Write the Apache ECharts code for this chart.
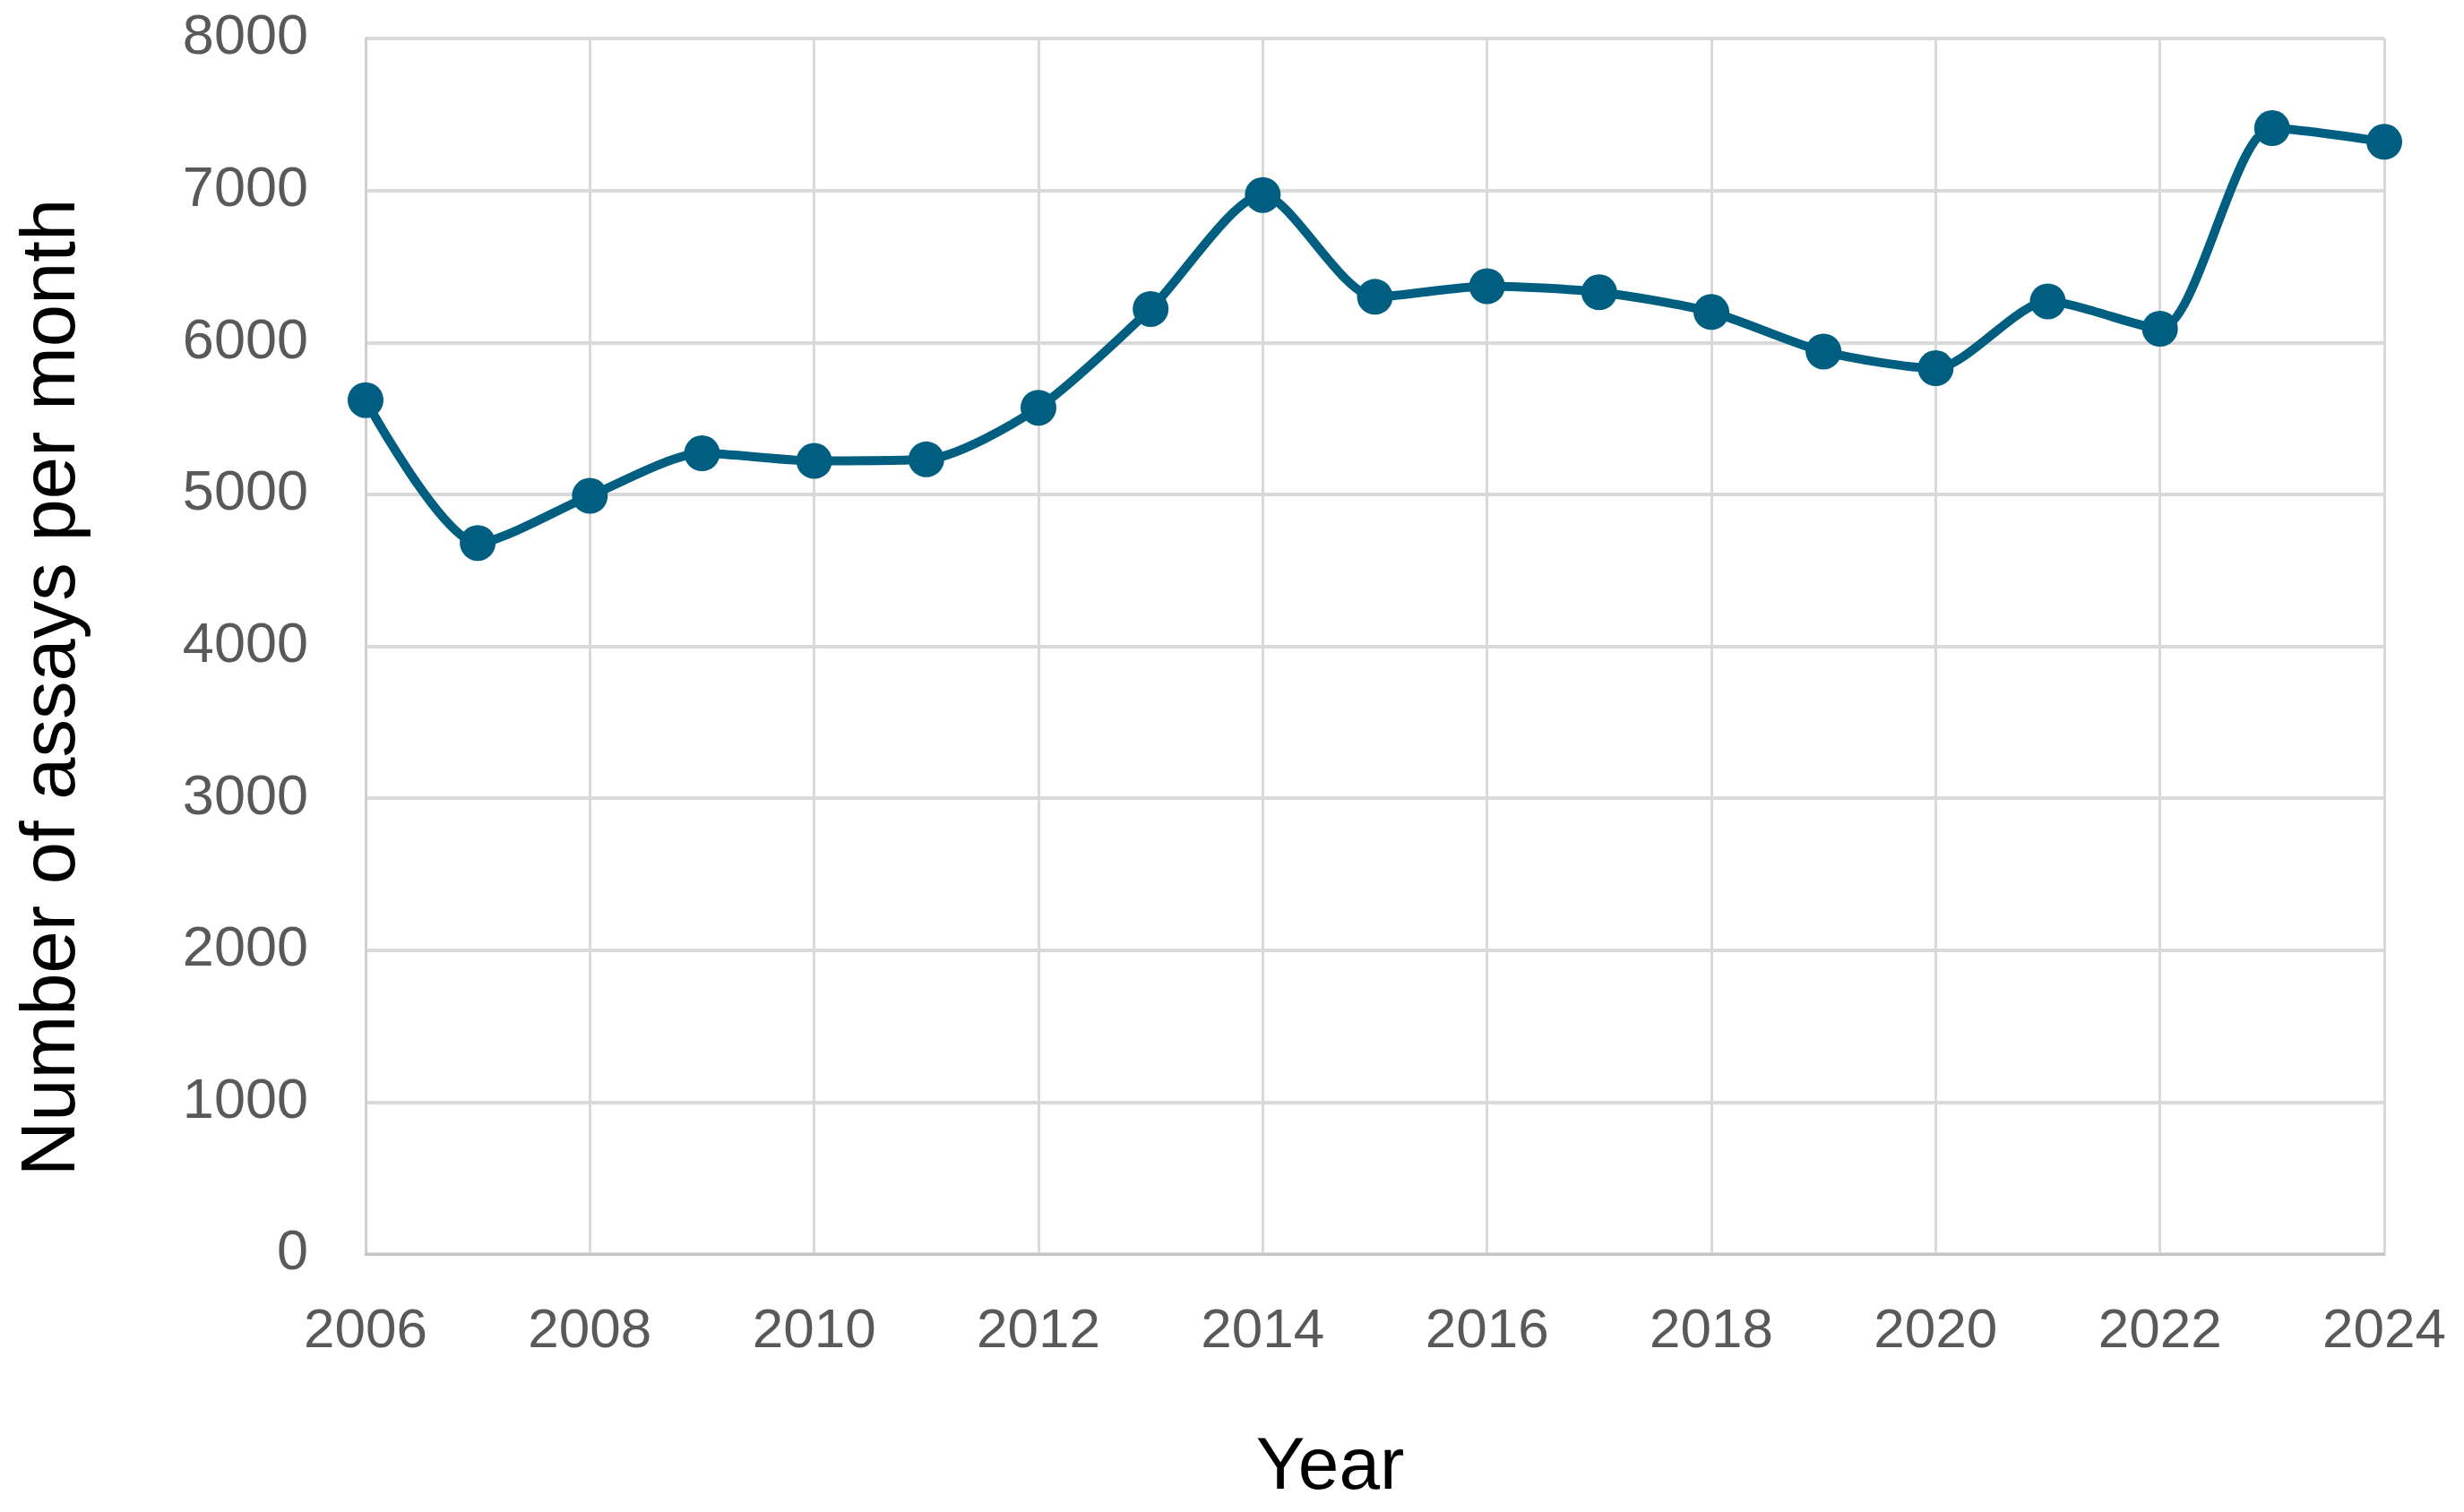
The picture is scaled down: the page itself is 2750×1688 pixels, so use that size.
<!DOCTYPE html>
<html>
<head>
<meta charset="utf-8">
<script src="https://cdn.jsdelivr.net/npm/echarts@6/dist/echarts.min.js"></script>
<style>
  html, body { margin: 0; padding: 0; background: #ffffff; }
  #chart { width: 2750px; height: 1688px; }
</style>
</head>
<body>
<div id="chart"></div>
<script>
const years = [2006, 2007, 2008, 2009, 2010, 2011, 2012, 2013, 2014, 2015, 2016, 2017, 2018, 2019, 2020, 2021, 2022, 2023, 2024];
const assays = [5620, 4680, 4990, 5270, 5220, 5230, 5570, 6220, 6970, 6300, 6370, 6330, 6200, 5940, 5830, 6270, 6090, 7410, 7320];
const xAxisTitle = 'Year';
const yAxisTitle = 'Number of assays per month';

const seriesData = years.map((y, i) => [y, assays[i]]);

const chart = echarts.init(document.getElementById('chart'), null, { renderer: 'canvas' });
chart.setOption({
  animation: false,
  backgroundColor: '#ffffff',
  grid: { left: 408, right: 89, top: 43, bottom: 288, containLabel: false },
  xAxis: {
    type: 'value',
    min: 2006,
    max: 2024,
    interval: 2,
    name: xAxisTitle,
    nameLocation: 'middle',
    nameGap: 198,
    nameTextStyle: { fontFamily: 'Liberation Sans, Arial, sans-serif', fontSize: 82, color: '#000000', padding: [0, 100, 0, 0] },
    axisLine: { show: true, lineStyle: { color: '#c4c4c4', width: 3 } },
    axisTick: { show: false },
    axisLabel: { fontFamily: 'Liberation Sans, Arial, sans-serif', fontSize: 62, color: '#595959', margin: 56, formatter: v => String(v) },
    splitLine: { show: true, lineStyle: { color: '#d9d9d9', width: 3 } }
  },
  yAxis: {
    type: 'value',
    min: 0,
    max: 8000,
    interval: 1000,
    name: yAxisTitle,
    nameLocation: 'middle',
    nameGap: 306,
    nameTextStyle: { fontFamily: 'Liberation Sans, Arial, sans-serif', fontSize: 85, color: '#000000', padding: [0, 92, 0, 0] },
    axisLine: { show: true, lineStyle: { color: '#cfcfcf', width: 3 } },
    axisTick: { show: false },
    axisLabel: { fontFamily: 'Liberation Sans, Arial, sans-serif', fontSize: 63, color: '#595959', margin: 64, formatter: v => String(v) },
    splitLine: { show: true, lineStyle: { color: '#d9d9d9', width: 4 } }
  },
  series: [{
    type: 'line',
    data: seriesData,
    smooth: 0.25,
    symbol: 'circle',
    symbolSize: 40,
    lineStyle: { color: '#005f80', width: 10 },
    itemStyle: { color: '#005f80' }
  }]
});
</script>
</body>
</html>
